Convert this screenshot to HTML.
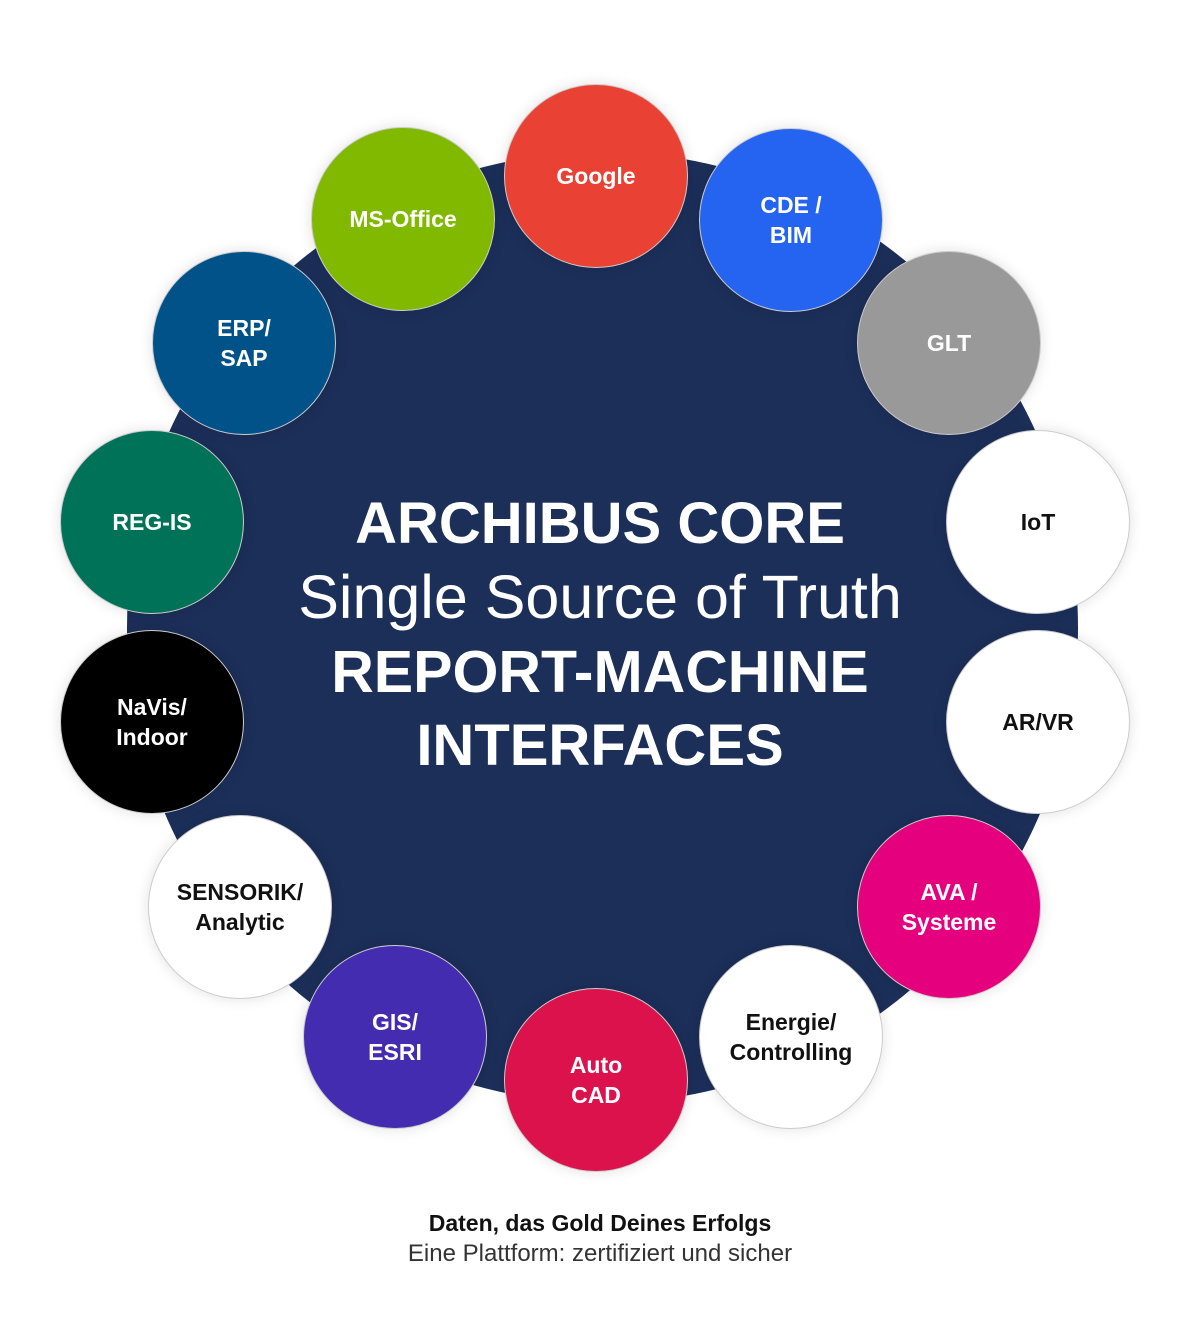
<!DOCTYPE html>
<html><head><meta charset="utf-8"><style>
body{margin:0;width:1200px;height:1341px;background:#fff;position:relative;overflow:hidden;font-family:"Liberation Sans",sans-serif}
.big{position:absolute;left:127px;top:152px;width:951px;height:951px;border-radius:50%;background:#1c2f59}
.c{position:absolute;width:182px;height:182px;border-radius:50%;border:1px solid #ccc;box-shadow:0 0 14px rgba(0,0,0,.12);display:flex;align-items:center;justify-content:center;text-align:center;color:#fff;font-weight:bold;font-size:23px;line-height:30px}
.w{background:#fff;color:#111}
.t{position:absolute;left:0;width:1200px;text-align:center;color:#fff}
</style></head><body>
<div class="big"></div>
<div class="t" style="top:490px;font-size:58px;font-weight:bold">ARCHIBUS CORE</div>
<div class="t" style="top:562px;font-size:61px">Single Source of Truth</div>
<div class="t" style="top:638px;font-size:59px;font-weight:bold">REPORT-MACHINE</div>
<div class="t" style="top:712px;font-size:58px;font-weight:bold">INTERFACES</div>

<div class="c" style="left:504px;top:84px;background:#e94235">Google</div>
<div class="c" style="left:699px;top:128px;background:#2464f0">CDE /<br>BIM</div>
<div class="c" style="left:857px;top:251px;background:#999">GLT</div>
<div class="c w" style="left:946px;top:430px">IoT</div>
<div class="c w" style="left:946px;top:630px">AR/VR</div>
<div class="c" style="left:857px;top:815px;background:#e5007e">AVA /<br>Systeme</div>
<div class="c w" style="left:699px;top:945px">Energie/<br>Controlling</div>
<div class="c" style="left:504px;top:988px;background:#dc124d">Auto<br>CAD</div>
<div class="c" style="left:303px;top:945px;background:#432cb0">GIS/<br>ESRI</div>
<div class="c w" style="left:148px;top:815px">SENSORIK/<br>Analytic</div>
<div class="c" style="left:60px;top:630px;background:#000">NaVis/<br>Indoor</div>
<div class="c" style="left:60px;top:430px;background:#007258">REG-IS</div>
<div class="c" style="left:152px;top:251px;background:#02528a">ERP/<br>SAP</div>
<div class="c" style="left:311px;top:127px;background:#80b900">MS-Office</div>

<div style="position:absolute;left:0;width:1200px;top:1210px;text-align:center;font-size:23px;font-weight:bold;color:#111">Daten, das Gold Deines Erfolgs</div>
<div style="position:absolute;left:0;width:1200px;top:1240px;text-align:center;font-size:24px;color:#333">Eine Plattform: zertifiziert und sicher</div>
</body></html>
